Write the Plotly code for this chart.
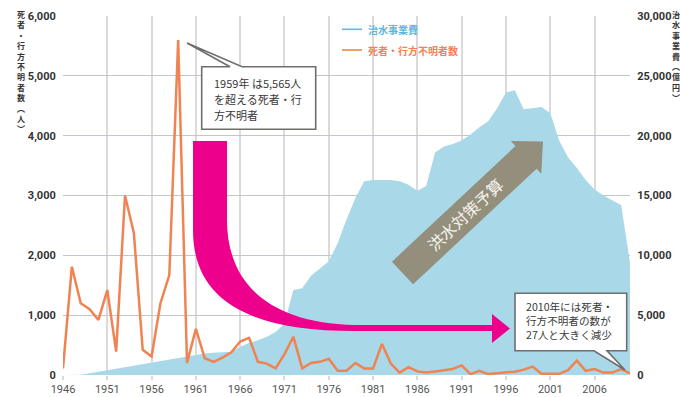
import math
import plotly.graph_objects as go

# ---------------- data ----------------
years = list(range(1946, 2011))
deaths = [110, 1810, 1200, 1100, 920, 1420, 390, 3000, 2370, 420,
          310, 1200, 1670, 5600, 200, 770, 280, 220, 290, 380,
          560, 620, 220, 190, 110, 350, 640, 110, 200, 220,
          270, 70, 70, 200, 110, 110, 520, 190, 40, 130,
          60, 40, 60, 85, 100, 160, 15, 70, 15, 30,
          40, 55, 90, 140, 20, 20, 20, 80, 240, 70,
          100, 40, 40, 100, 27]
budget = [0, 0, 30, 150, 280, 420, 550, 680, 800, 930,
          1060, 1190, 1320, 1450, 1570, 1690, 1800, 1850, 1870, 1950,
          2370, 2670, 2900, 3200, 3600, 4300, 7100, 7250, 8300, 8900,
          9500, 11000, 13000, 14800, 16200, 16300, 16300, 16300, 16200, 15900,
          15400, 15800, 18600, 19100, 19300, 19600, 20100, 20700, 21200, 22300,
          23600, 23800, 22200, 22300, 22400, 21900, 19600, 18200, 17300, 16300,
          15500, 15000, 14600, 14200, 9400]
x_ticks = [1946, 1951, 1956, 1961, 1966, 1971, 1976, 1981, 1986, 1991, 1996, 2001, 2006]
left_ticks = [0, 1000, 2000, 3000, 4000, 5000, 6000]
right_ticks = [0, 5000, 10000, 15000, 20000, 25000, 30000]
left_title = ['死', '者', '・', '行', '方', '不', '明', '者', '数', '︵', '人', '︶']
right_title = ['治', '水', '事', '業', '費', '︵', '億', '円', '︶']
legend_names = ['治水事業費', '死者・行方不明者数']
note1 = ['1959年 は5,565人', 'を超える死者・行', '方不明者']
note2 = ['2010年には死者・', '行方不明者の数が', '27人と大きく減少']
arrow_label = '洪水対策予算'

# ---------------- styling ----------------
W, H = 680, 397
L, R, T, B = 63, 630, 16, 375
BLUE_FILL = '#a9d8e8'
BLUE_LINE = '#5bbddf'
ORANGE = '#ef8352'
PINK = '#ec008c'
GRAY_ARROW = '#948f7c'
CJK = 'Noto Sans CJK JP'


def fx(px):
    return (px - L) / (R - L)


def fy(py):
    return (B - py) / (B - T)


def P(px, py):
    return f"{fx(px):.5f},{fy(py):.5f}"


def poly(pts):
    s = 'M ' + ' L '.join(P(a, b) for a, b in pts) + ' Z'
    return s


fig = go.Figure()
fig.add_trace(go.Scatter(x=years, y=budget, mode='lines', fill='tozeroy',
                         fillcolor=BLUE_FILL, line=dict(width=0, color=BLUE_FILL),
                         yaxis='y', hoverinfo='skip'))
fig.add_trace(go.Scatter(x=years, y=deaths, mode='lines',
                         line=dict(width=2.5, color=ORANGE),
                         yaxis='y2', hoverinfo='skip'))

shapes = []
annotations = []

# pink curved arrow
pink_path = ('M ' + P(193, 141) + ' L ' + P(227, 141) + ' L ' + P(227, 220) +
             ' C ' + P(227, 280) + ' ' + P(265, 323) + ' ' + P(355, 325) +
             ' L ' + P(492, 325) + ' L ' + P(492, 314) + ' L ' + P(510, 328.5) +
             ' L ' + P(492, 343) + ' L ' + P(492, 331) + ' L ' + P(355, 331) +
             ' C ' + P(245, 331) + ' ' + P(193, 298) + ' ' + P(193, 230) + ' Z')
shapes.append(dict(type='path', xref='paper', yref='paper', path=pink_path,
                   fillcolor=PINK, line=dict(width=0), layer='above'))

# gray straight arrow
S = (402.5, 273.0)
tip = (543.0, 141.5)
dx, dy = tip[0] - S[0], tip[1] - S[1]
ln = math.hypot(dx, dy)
u = (dx / ln, dy / ln)
n = (-u[1], u[0])
hw, hhw, hl = 15.5, 22.4, 23.3
base = (S[0] + u[0] * (ln - hl), S[1] + u[1] * (ln - hl))
pts = [(S[0] - n[0] * hw, S[1] - n[1] * hw),
       (base[0] - n[0] * hw, base[1] - n[1] * hw),
       (base[0] - n[0] * hhw, base[1] - n[1] * hhw),
       tip,
       (base[0] + n[0] * hhw, base[1] + n[1] * hhw),
       (base[0] + n[0] * hw, base[1] + n[1] * hw),
       (S[0] + n[0] * hw, S[1] + n[1] * hw)]
shapes.append(dict(type='path', xref='paper', yref='paper', path=poly(pts),
                   fillcolor=GRAY_ARROW, line=dict(width=0), layer='above'))
ang = math.degrees(math.atan2(-dy, dx))
mid = (S[0] + u[0] * 86, S[1] + u[1] * 86)
annotations.append(dict(xref='paper', yref='paper', x=fx(mid[0]), y=fy(mid[1]),
                        text=arrow_label, showarrow=False, textangle=-ang,
                        font=dict(family=CJK, size=16, color='#f6f4ec'),
                        xanchor='center', yanchor='middle'))

# callout boxes
box1 = [(201.7, 66.7), (230, 66.7), (187, 43), (242, 66.7), (315.7, 66.7),
        (315.7, 129.3), (201.7, 129.3)]
box2 = [(515, 293.3), (626.7, 293.3), (626.7, 350.7), (607, 350.7), (625, 370),
        (594, 350.7), (515, 350.7)]
for bx in (box1, box2):
    shapes.append(dict(type='path', xref='paper', yref='paper', path=poly(bx),
                       fillcolor='white', line=dict(width=1.6, color='#6e6e6e'),
                       layer='above'))
for txt, yy in zip(note1, [82.7, 98.9, 115.2]):
    annotations.append(dict(xref='paper', yref='paper', x=fx(212), y=fy(yy),
                            text=txt, showarrow=False, xanchor='left', yanchor='middle',
                            font=dict(family=CJK, size=11, color='#3a3a3a')))
annotations.append(dict(xref='paper', yref='paper', x=fx(525), y=fy(320),
                        text='<br>'.join(note2), showarrow=False, align='left',
                        xanchor='left', yanchor='middle', borderpad=0,
                        font=dict(family=CJK, size=10.6, color='#3a3a3a')))

# legend (manual)
for (name, col, yy, tcol) in [(legend_names[0], BLUE_LINE, 29.3, '#5ab8da'),
                              (legend_names[1], ORANGE, 50, ORANGE)]:
    shapes.append(dict(type='line', xref='paper', yref='paper', x0=fx(342), x1=fx(362),
                       y0=fy(yy), y1=fy(yy), line=dict(color=col, width=1.6), layer='above'))
    annotations.append(dict(xref='paper', yref='paper', x=fx(366), y=fy(yy), text=name,
                            showarrow=False, xanchor='left', yanchor='middle',
                            font=dict(family=CJK, size=10, color=tcol, weight='bold')))

# vertical axis titles (stacked characters)
annotations.append(dict(xref='paper', yref='paper', x=fx(21), y=fy(8),
                        text='<br>'.join(left_title), showarrow=False,
                        xanchor='center', yanchor='top', borderpad=0,
                        font=dict(family=CJK, size=8, color='#333333', weight='bold')))
annotations.append(dict(xref='paper', yref='paper', x=fx(676), y=fy(8),
                        text='<br>'.join(right_title), showarrow=False,
                        xanchor='center', yanchor='top', borderpad=0,
                        font=dict(family=CJK, size=8, color='#333333', weight='bold')))

tickfont_y = dict(family='Roboto', size=11, color='#333333', weight='bold')
fig.update_layout(
    width=W, height=H,
    margin=dict(l=L, r=W - R, t=T, b=H - B, pad=0),
    paper_bgcolor='white', plot_bgcolor='white',
    showlegend=False,
    xaxis=dict(range=[1946, 2010], tickvals=x_ticks, showgrid=True,
               gridcolor='#dadada', gridwidth=1.5, zeroline=False, showline=False,
               ticks='outside', ticklen=4, tickcolor='#dadada', tickwidth=1.5,
               tickfont=dict(family='Roboto', size=11, color='#555555'),
               automargin=False, fixedrange=True),
    yaxis=dict(side='right', range=[0, 30000], tickvals=right_ticks,
               ticktext=[f"{v:,}" for v in right_ticks], showgrid=True,
               gridcolor='#c4c4cc', gridwidth=1, zeroline=False, showline=False,
               ticks='outside', ticklen=4, tickcolor='rgba(0,0,0,0)',
               tickfont=tickfont_y, automargin=False, fixedrange=True),
    yaxis2=dict(side='left', overlaying='y', range=[0, 6000], tickvals=left_ticks,
                ticktext=[f"{v:,}" for v in left_ticks], showgrid=False,
                zeroline=False, showline=False,
                ticks='outside', ticklen=4, tickcolor='rgba(0,0,0,0)',
                tickfont=tickfont_y, automargin=False, fixedrange=True),
    shapes=shapes,
    annotations=annotations,
)

fig.write_html("out.html")
